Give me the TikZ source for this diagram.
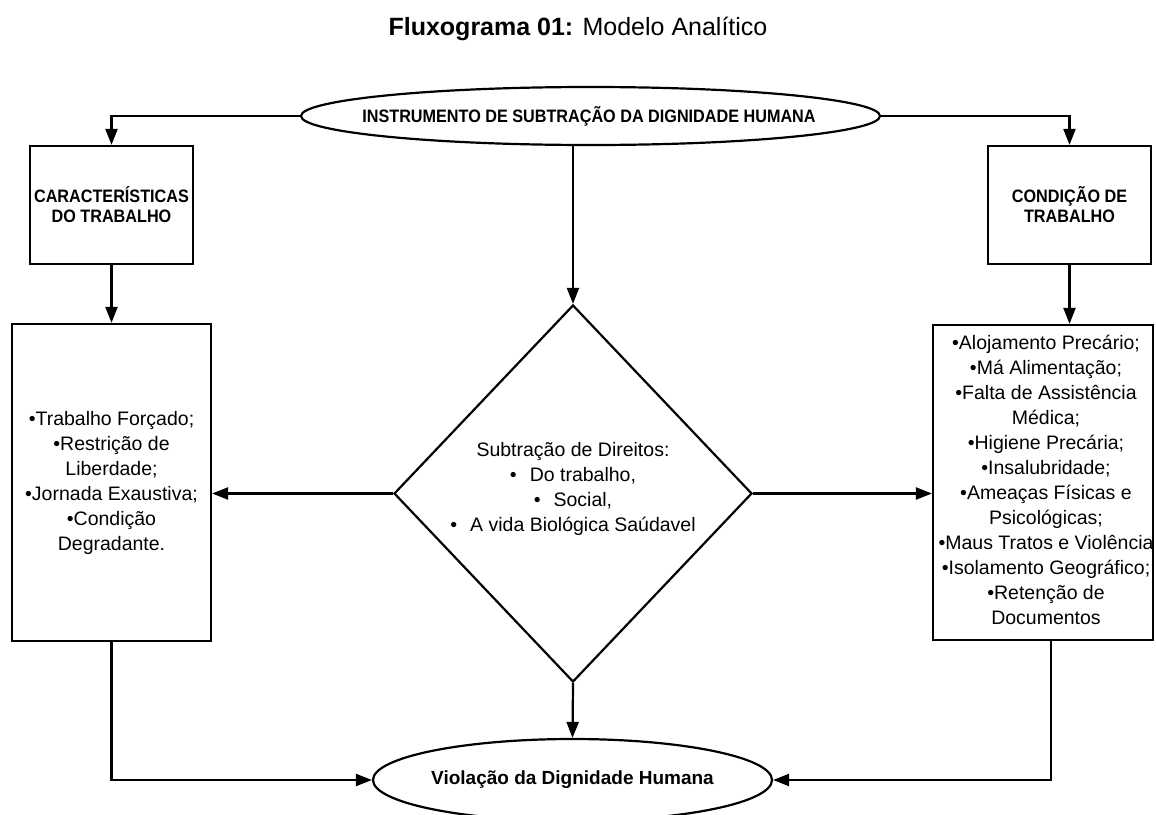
\documentclass[tikz,border=0pt]{standalone}
\usepackage{fontspec}
\setmainfont{Liberation Sans}
\newfontfamily\bnarrow[FakeStretch=0.9]{Liberation Sans Bold}
\usetikzlibrary{arrows.meta,shapes.geometric}
\begin{document}
\begin{tikzpicture}[x=1pt,y=-1pt,
  line width=2.2pt,
  arr/.style={-{Triangle[length=16pt,width=12pt]}},
  boldtxt/.style={font=\bnarrow\fontsize{18}{20}\selectfont, align=center, inner sep=0pt},
  bodytxt/.style={font=\fontsize{19.5}{25}\selectfont, align=center, inner sep=0pt},
  box/.style={draw, rectangle, inner sep=0pt}
]
\useasboundingbox (0,0) rectangle (1156,814);

\node[anchor=base, inner sep=0pt, font=\fontsize{25}{30}\selectfont] (title) at (578,35) {\textbf{Fluxograma 01:} Modelo Analítico};

% top ellipse
\node[draw, ellipse, minimum width=579pt, minimum height=58pt, inner sep=0pt] (top) at (590.5,116) {};
\node[boldtxt] (topt) at (589,116) {INSTRUMENTO DE SUBTRAÇÃO DA DIGNIDADE HUMANA};

% small boxes
\node[box, boldtxt, minimum width=163pt, minimum height=118pt] (charbox) at (111.5,205) {CARACTERÍSTICAS\\DO TRABALHO};
\node[box, boldtxt, minimum width=163pt, minimum height=118pt] (condbox) at (1069.5,205) {CONDIÇÃO DE\\TRABALHO};

% big boxes
\node[box, bodytxt, minimum width=199pt, minimum height=317pt] (leftbox) at (111.5,482.5)
  {•Trabalho Forçado;\\•Restrição de\\Liberdade;\\•Jornada Exaustiva;\\•Condição\\Degradante.};
\node[box, minimum width=220pt, minimum height=315pt] (rightbox) at (1043,482.5) {};
\node[bodytxt] (rightt) at (1046,480)
  {•Alojamento Precário;\\•Má Alimentação;\\•Falta de Assistência\\Médica;\\•Higiene Precária;\\•Insalubridade;\\•Ameaças Físicas e\\Psicológicas;\\•Maus Tratos e Violência\\•Isolamento Geográfico;\\•Retenção de\\Documentos};

% diamond
\node[draw, diamond, minimum width=358pt, minimum height=377pt, inner sep=0pt] (dia) at (573,493.5) {};
\node[bodytxt] (diat) at (573,489)
  {Subtração de Direitos:\\•\hspace{13pt}Do trabalho,\\•\hspace{13pt}Social,\\•\hspace{13pt}A vida Biológica Saúdavel};

% bottom ellipse
\node[draw, ellipse, minimum width=399pt, minimum height=82pt, inner sep=0pt] (bot) at (572.5,780) {};
\node[inner sep=0pt, font=\bfseries\fontsize{19}{22}\selectfont] (bott) at (572.5,780) {Violação da Dignidade Humana};

% connectors
\draw[arr] (top.west) -| (charbox.north);
\draw[arr] (top.east) -| (condbox.north);
\draw[arr] (top.south -| dia.north) -- (dia.north);
\draw[arr] (charbox.south) -- (leftbox.north);
\draw[arr] (condbox.south) -- (condbox.south |- rightbox.north);
\draw[arr] (dia.west) -- (leftbox.east |- dia.west);
\draw[arr] (dia.east) -- (rightbox.west |- dia.east);
\draw[arr] (dia.south) -- (bot.north);
\draw[arr] (leftbox.south) |- (bot.west);
\draw[arr] ([xshift=8pt]rightbox.south) |- (bot.east);
\end{tikzpicture}
\end{document}
